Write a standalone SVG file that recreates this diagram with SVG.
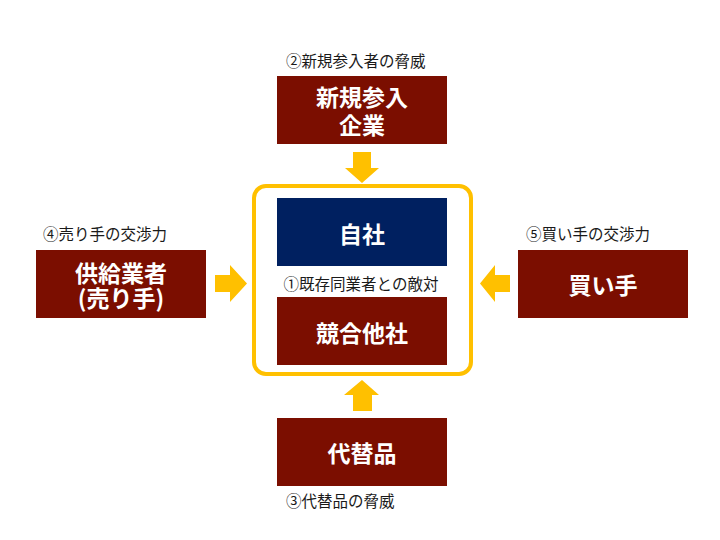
<svg xmlns="http://www.w3.org/2000/svg" width="720" height="540" viewBox="0 0 720 540">
<style>
.box{fill:#7B0E00}
.self{fill:#002060}
.bt{fill:#fff;font-family:"Noto Sans CJK JP","Noto Sans CJK SC",sans-serif;font-weight:bold;font-size:23px;text-anchor:middle}
.lb{fill:#1a1a1a;font-family:"Noto Sans CJK JP","Noto Sans CJK SC",sans-serif;font-size:15.5px}
.arr{fill:#FFC000}
</style>
<rect width="720" height="540" fill="#fff"/>
<g id="frame"><rect x="254" y="186" width="217" height="188" rx="12" fill="none" stroke="#FFC000" stroke-width="4"/></g>
<g id="connectors">
<polygon class="arr" points="353,152 371,152 371,168 379,168 362,183 345,168 353,168"/>
<polygon class="arr" points="215,275 230,275 230,265 247,283.5 230,302 230,292 215,292"/>
<polygon class="arr" points="510,275 495,275 495,265 480,283.5 495,302 495,292 510,292"/>
<polygon class="arr" points="353,411 372,411 372,395 379,395 362,380 344,395 353,395"/>
</g>
<g id="node-new">
<text class="lb" x="286" y="67">②新規参入者の脅威</text>
<rect class="box" x="277" y="76" width="170" height="68"/>
<text class="bt" x="362" y="106">新規参入</text>
<text class="bt" x="362" y="134">企業</text>
</g>
<g id="node-self">
<rect class="self" x="277" y="198" width="170" height="68"/>
<text class="bt" x="362" y="243">自社</text>
</g>
<g id="label-rivalry"><text class="lb" x="361" y="289.5" text-anchor="middle">①既存同業者との敵対</text></g>
<g id="node-rival">
<rect class="box" x="277" y="297" width="170" height="68"/>
<text class="bt" x="362" y="342">競合他社</text>
</g>
<g id="node-supplier">
<text class="lb" x="43" y="240">④売り手の交渉力</text>
<rect class="box" x="36" y="250" width="170" height="68"/>
<text class="bt" x="121" y="282">供給業者</text>
<text class="bt" x="121" y="307">(売り手)</text>
</g>
<g id="node-buyer">
<text class="lb" x="526" y="240">⑤買い手の交渉力</text>
<rect class="box" x="518" y="250" width="170" height="68"/>
<text class="bt" x="603" y="294">買い手</text>
</g>
<g id="node-substitute">
<rect class="box" x="277" y="418" width="170" height="68"/>
<text class="bt" x="362" y="462">代替品</text>
<text class="lb" x="286" y="506.5">③代替品の脅威</text>
</g>
</svg>
